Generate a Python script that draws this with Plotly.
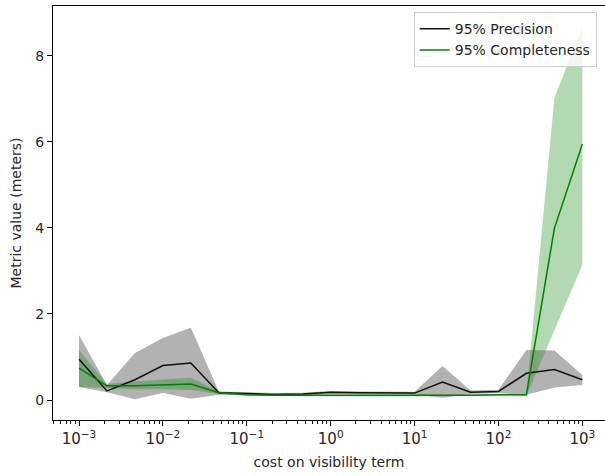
import plotly.graph_objects as go

x_vals = [1e-3, 2.154e-3, 4.642e-3, 1e-2, 2.154e-2, 4.642e-2, 0.1, 0.2154, 0.4642, 1.0,
          2.154, 4.642, 10.0, 21.54, 46.42, 100.0, 215.4, 464.2, 1000.0]

prec_mean = [0.95, 0.21, 0.47, 0.80, 0.86, 0.17, 0.15, 0.13, 0.14, 0.18, 0.17, 0.17, 0.16, 0.42, 0.18, 0.20, 0.62, 0.71, 0.47]
prec_low = [0.30, 0.18, 0.02, 0.16, 0.03, 0.12, 0.12, 0.10, 0.11, 0.14, 0.14, 0.14, 0.13, 0.05, 0.14, 0.16, 0.12, 0.29, 0.35]
prec_high = [1.51, 0.35, 1.09, 1.44, 1.68, 0.20, 0.18, 0.16, 0.17, 0.21, 0.20, 0.20, 0.19, 0.79, 0.22, 0.24, 1.16, 1.15, 0.58]

comp_mean = [0.74, 0.33, 0.33, 0.35, 0.37, 0.17, 0.12, 0.11, 0.11, 0.10, 0.10, 0.10, 0.10, 0.11, 0.11, 0.12, 0.12, 3.99, 5.95]
comp_low = [0.30, 0.28, 0.25, 0.25, 0.23, 0.14, 0.10, 0.09, 0.09, 0.08, 0.08, 0.08, 0.08, 0.09, 0.09, 0.10, 0.10, 1.60, 3.14]
comp_high = [1.16, 0.37, 0.43, 0.47, 0.52, 0.20, 0.14, 0.13, 0.13, 0.12, 0.12, 0.12, 0.12, 0.13, 0.13, 0.14, 0.14, 7.02, 8.68]

x_tickvals = [1e-3, 1e-2, 1e-1, 1, 10, 100, 1000]
x_ticktext = ["10<sup>\u22123</sup>", "10<sup>\u22122</sup>", "10<sup>\u22121</sup>", "10<sup>0</sup>",
              "10<sup>1</sup>", "10<sup>2</sup>", "10<sup>3</sup>"]
y_tickvals = [0, 2, 4, 6, 8]

FONT = "DejaVu Sans"

fig = go.Figure()

# shaded bands
fig.add_trace(go.Scatter(x=x_vals + x_vals[::-1], y=prec_high + prec_low[::-1], fill="toself",
                         fillcolor="rgba(0,0,0,0.3)", line=dict(width=0), mode="lines",
                         showlegend=False, hoverinfo="skip"))
fig.add_trace(go.Scatter(x=x_vals + x_vals[::-1], y=comp_high + comp_low[::-1], fill="toself",
                         fillcolor="rgba(0,128,0,0.3)", line=dict(width=0), mode="lines",
                         showlegend=False, hoverinfo="skip"))

fig.add_trace(go.Scatter(x=x_vals, y=prec_mean, mode="lines", name="95% Precision",
                         line=dict(color="#111111", width=1.5)))
fig.add_trace(go.Scatter(x=x_vals, y=comp_mean, mode="lines", name="95% Completeness",
                         line=dict(color="#008000", width=1.5)))

fig.update_layout(
    width=605, height=476,
    margin=dict(l=53, r=0, t=6, b=56),
    plot_bgcolor="white", paper_bgcolor="white",
    font=dict(family=FONT, size=14, color="#262626"),
    legend=dict(x=0.985, y=0.985, xanchor="right", yanchor="top",
                bgcolor="rgba(255,255,255,0.8)", bordercolor="#cccccc", borderwidth=1,
                font=dict(size=14), tracegroupgap=0, itemwidth=30),
    showlegend=True,
)

fig.update_xaxes(type="log", range=[-3.31, 3.27], showgrid=False, zeroline=False,
                 showline=True, linecolor="black", linewidth=1, mirror=True,
                 ticks="outside", ticklen=5, tickcolor="black",
                 tickvals=x_tickvals, ticktext=x_ticktext,
                 tickfont=dict(size=15),
                 minor=dict(ticks="outside", ticklen=3, tickcolor="black", dtick="D1", showgrid=False),
                 title=dict(text="cost on visibility term", font=dict(size=14), standoff=10))
fig.update_yaxes(range=[-0.465, 9.16], showgrid=False, zeroline=False,
                 showline=True, linecolor="black", linewidth=1,
                 ticks="outside", ticklen=5, tickcolor="black",
                 tickvals=y_tickvals,
                 title=dict(text="Metric value (meters)", font=dict(size=14), standoff=10))

fig.write_html("out.html")
